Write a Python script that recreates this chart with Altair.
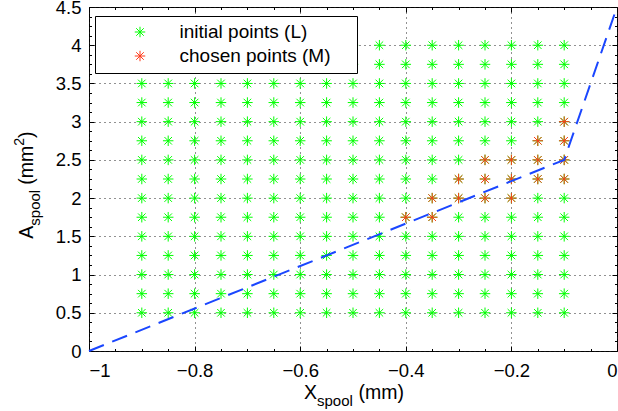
import altair as alt
import pandas as pd

# Sampling grid of spool positions (mm) and spool areas (mm^2)
x_grid = [-0.9, -0.85, -0.8, -0.75, -0.7, -0.65, -0.6, -0.55, -0.5,
          -0.45, -0.4, -0.35, -0.3, -0.25, -0.2, -0.15, -0.1]
a_grid = [0.5, 0.75, 1.0, 1.25, 1.5, 1.75, 2.0, 2.25, 2.5, 2.75,
          3.0, 3.25, 3.5, 3.75, 4.0]

# Points retained after selection
chosen_x = [-0.1, -0.15, -0.1, -0.25, -0.2, -0.15, -0.1,
            -0.3, -0.25, -0.2, -0.15, -0.1,
            -0.35, -0.3, -0.25, -0.2, -0.4, -0.35]
chosen_a = [3.0, 2.75, 2.75, 2.5, 2.5, 2.5, 2.5,
            2.25, 2.25, 2.25, 2.25, 2.25,
            2.0, 2.0, 2.0, 2.0, 1.75, 1.75]

# Piecewise-linear boundary
bound_x = [-1.0, -0.1, 0.0]
bound_a = [0.0, 2.5, 4.5]

# Tick positions: majors carry labels and grid lines, the rest are minor ticks
x_ticks = [round(-1 + 0.05 * i, 2) for i in range(21)]
a_ticks = [0.125 * i for i in range(37)]
X_MAJOR = "abs(datum.value * 5 - round(datum.value * 5)) < 0.001"
A_MAJOR = "abs(datum.value * 2 - round(datum.value * 2)) < 0.001"

LAB_L = "initial points (L)"
LAB_M = "chosen points (M)"

rows = [{"x": x, "a": a, "series": LAB_L} for a in a_grid for x in x_grid]
rows += [{"x": x, "a": a, "series": LAB_M} for x, a in zip(chosen_x, chosen_a)]
pts = pd.DataFrame(rows)
bound = pd.DataFrame({"x": bound_x, "a": bound_a})

FONT = "Liberation Sans"
STAR = "M-1,0H1M0,-1V1M-0.72,-0.72L0.72,0.72M-0.72,0.72L0.72,-0.72"
W, H = 528, 344

xs = alt.Scale(domain=[-1, 0], nice=False, zero=False)
ys = alt.Scale(domain=[0, 4.5], nice=False, zero=False)


def frame_axis(orient, values, major, labels, pad=0):
    """Inward ticks: long at majors, short (dashed off near the axis) at minors."""
    opts = dict(
        orient=orient, values=values, domain=False, title=None,
        tickSize=5, offset=-5, tickColor="black", tickWidth=1,
        tickDash={"condition": {"test": major, "value": [5, 0]},
                  "value": [0, 2.5, 2.5, 5]},
        labels=labels,
    )
    if labels:
        opts.update(
            format="~g", labelFont=FONT, labelFontSize=18.5,
            labelColor="black", labelPadding=pad,
            labelExpr=f"({major}) ? datum.label : ''",
            grid=True, gridDash=[1, 4], gridColor="#222", gridWidth=1,
            gridOpacity={"condition": {"test": major, "value": 1}, "value": 0},
        )
    else:
        opts.update(grid=False)
    return alt.Axis(**opts)


points = alt.Chart(pts).mark_point(
    shape=STAR, filled=False, size=110, strokeWidth=1, opacity=1
).encode(
    x=alt.X("x:Q", scale=xs,
            axis=frame_axis("bottom", x_ticks, X_MAJOR, True, 10)),
    y=alt.Y("a:Q", scale=ys,
            axis=frame_axis("left", a_ticks, A_MAJOR, True, 8)),
    color=alt.Color("series:N",
                    scale=alt.Scale(domain=[LAB_L, LAB_M],
                                    range=["#00ff00", "#ff3a1a"]),
                    legend=alt.Legend(
                        orient="none", legendX=6, legendY=9, zindex=1,
                        title=" ", titleOrient="right", titlePadding=20,
                        titleFontSize=4,
                        fillColor="white", strokeColor="black", padding=6.5,
                        symbolType=STAR, symbolSize=110, symbolStrokeWidth=1,
                        symbolOffset=29, labelOffset=30, rowPadding=4,
                        labelFont=FONT, labelFontSize=19, labelColor="black")),
)

line = alt.Chart(bound).mark_line(
    color="#1a46ff", strokeWidth=2, strokeDash=[16, 9]
).encode(
    x=alt.X("x:Q", scale=xs, axis=frame_axis("top", x_ticks, X_MAJOR, False)),
    y=alt.Y("a:Q", scale=ys, axis=frame_axis("right", a_ticks, A_MAJOR, False)),
)

one = alt.Data(values=[{}])


def label(txt, px, py, size, angle=0):
    return alt.Chart(one).mark_text(
        text=txt, font=FONT, fontSize=size, color="black", align="left",
        baseline="alphabetic", angle=angle
    ).encode(x=alt.value(px), y=alt.value(py))


# x-axis title: X_spool (mm)
x_title = [
    label("X", 215, 392, 19.5),
    label("spool", 228, 399, 15),
    label("(mm)", 269.5, 392, 19.5),
]
# y-axis title: A_spool (mm^2), rotated to read upwards
y_title = [
    label("A", -56, 231.7, 19.5, 270),
    label("spool", -49, 218.7, 15, 270),
    label("(mm", -56, 177.7, 19.5, 270),
    label("2", -65, 138.7, 14, 270),
    label(")", -56, 131, 19.5, 270),
]

chart = alt.layer(points, line, *x_title, *y_title).resolve_axis(
    x="independent", y="independent"
).properties(
    width=W, height=H,
    autosize=alt.AutoSizeParams(type="none"),
    padding={"left": 89, "top": 7, "right": 1, "bottom": 60},
).configure_view(stroke="black", strokeWidth=1)

chart.save("out.html", embed_options={"renderer": "svg", "actions": False})
